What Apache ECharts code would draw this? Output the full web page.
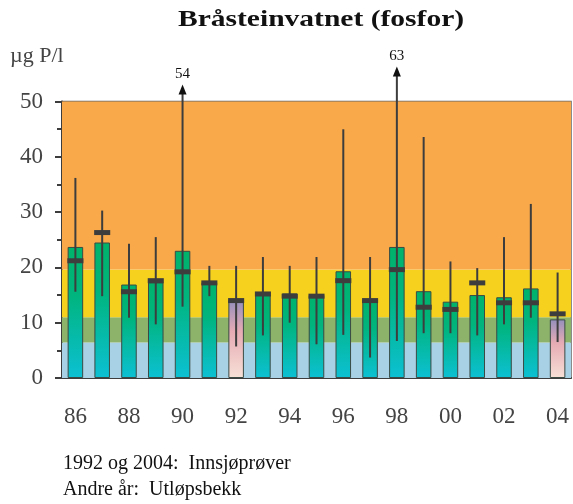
<!DOCTYPE html>
<html>
<head>
<meta charset="utf-8">
<style>
  html, body { margin: 0; padding: 0; background: #fff; }
  #chart { width: 573px; height: 504px; }
</style>
<script src="https://cdn.jsdelivr.net/npm/echarts@6/dist/echarts.min.js"></script>
</head>
<body>
<div id="chart"></div>
<script>
var years = ['1986', '1987', '1988', '1989', '1990', '1991', '1992', '1993', '1994', '1995',
             '1996', '1997', '1998', '1999', '2000', '2001', '2002', '2003', '2004'];
// bar height, mean marker, min and max of the range line (µg P/l)
var barValues = [23.7, 24.5, 16.9, 17.3, 23.0, 17.3, 14.1, 15.0, 15.3, 15.0, 19.3, 14.2, 23.7, 15.7, 13.8, 15.0, 14.6, 16.2, 10.6];
var meanValues = [21.2, 26.3, 15.6, 17.6, 19.2, 17.2, 14.0, 15.2, 14.8, 14.8, 17.6, 14.0, 19.6, 12.8, 12.4, 17.2, 13.6, 13.6, 11.6];
var lowValues = [15.6, 14.8, 10.9, 9.7, 12.9, 14.8, 5.7, 7.7, 10.0, 6.1, 7.8, 3.7, 6.7, 8.1, 8.1, 7.7, 9.7, 10.9, 6.5];
var highValues = [36.9, 31.0, 25.0, 26.2, 54, 21.0, 21.0, 22.6, 21.0, 22.6, 45.7, 22.6, 63, 44.3, 21.8, 20.6, 26.2, 32.2, 19.8];
// years sampled in the lake instead of the outlet stream
var lakeYears = ['1992', '2004'];
// condition class bands
var bandLimits = [0, 6.4, 11, 19.6, 50];
var bandColors = ['#a9d1e5', '#8db36b', '#f6d21f', '#f9a94a'];
var notes = ['1992 og 2004:  Innsjøprøver', 'Andre år:  Utløpsbekk'];

var serif = '"Liberation Serif", "DejaVu Serif", serif';
var ink = '#3d3d3d';
var yMax = 50;

var greenFill = new echarts.graphic.LinearGradient(0, 0, 0, 1, [
  { offset: 0, color: '#00b36b' },
  { offset: 0.35, color: '#00b47c' },
  { offset: 1, color: '#0cc0d4' }
]);
var pinkFill = new echarts.graphic.LinearGradient(0, 0, 0, 1, [
  { offset: 0, color: '#948fbd' },
  { offset: 0.4, color: '#e6abb4' },
  { offset: 1, color: '#f7e0d6' }
]);

var bands = [];
for (var b = 0; b < bandColors.length; b++) {
  bands.push([
    { yAxis: bandLimits[b], itemStyle: { color: bandColors[b], opacity: 1 } },
    { yAxis: bandLimits[b + 1] }
  ]);
}

var rangeData = years.map(function (y, i) {
  return [i, lowValues[i], highValues[i], meanValues[i]];
});

function renderRange(params, api) {
  var i = api.value(0);
  var low = api.value(1);
  var high = api.value(2);
  var mean = api.value(3);
  var w = api.size([1, 0])[0] * 0.6;
  var pLow = api.coord([i, low]);
  var pTop = api.coord([i, Math.min(high, yMax)]);
  var pMean = api.coord([i, mean]);
  var children = [];
  var topY = pTop[1];
  if (high > yMax) {
    // values above the axis get an arrow and their number
    topY = pTop[1] - (8 + (high - yMax) * 2);
    children.push({
      type: 'polygon',
      shape: { points: [[pTop[0] - 4, topY + 9], [pTop[0] + 4, topY + 9], [pTop[0], topY - 1]] },
      style: { fill: '#111' }
    });
    children.push({
      type: 'text',
      x: pTop[0], y: topY - 4,
      style: { text: String(high), fill: '#111', font: '15px ' + serif, align: 'center', verticalAlign: 'bottom' }
    });
  }
  children.unshift({
    type: 'line',
    shape: { x1: pLow[0], y1: pLow[1], x2: pTop[0], y2: topY + 4 },
    style: { stroke: ink, lineWidth: 2 }
  });
  children.push({
    type: 'rect',
    shape: { x: pMean[0] - w / 2, y: pMean[1] - 2.5, width: w, height: 5 },
    style: { fill: ink }
  });
  return { type: 'group', children: children };
}

var chart = echarts.init(document.getElementById('chart'), null, { renderer: 'canvas' });

chart.setOption({
  animation: false,
  backgroundColor: '#fff',
  grid: { left: 62, right: 2, top: 101.5, bottom: 126, show: true, borderColor: '#666', borderWidth: 1.5, backgroundColor: 'transparent' },
  xAxis: [
    {
      type: 'category',
      data: years,
      axisLine: { lineStyle: { color: ink, width: 2 } },
      axisTick: { interval: 0, length: 3, lineStyle: { color: ink, width: 2 } },
      axisLabel: {
        interval: 1,
        margin: 27,
        fontFamily: serif,
        fontSize: 23,
        color: '#444',
        formatter: function (v) { return v.slice(2); }
      }
    },
    {
      type: 'category',
      data: years,
      position: 'bottom',
      axisLine: { show: false },
      axisTick: { interval: 1, length: 7, lineStyle: { color: ink, width: 2 } },
      axisLabel: { show: false }
    }
  ],
  yAxis: {
    type: 'value',
    min: 0,
    max: yMax,
    interval: 10,
    axisLine: { show: true, lineStyle: { color: ink, width: 2 } },
    axisTick: { show: true, length: 7, lineStyle: { color: ink, width: 2 } },
    minorTick: { show: true, splitNumber: 2, length: 5, lineStyle: { color: ink, width: 2 } },
    splitLine: { show: false },
    axisLabel: { fontFamily: serif, fontSize: 23, color: '#444', margin: 19 }
  },
  graphic: [
    {
      type: 'text', left: 178, top: 8, scaleX: 1.23,
      style: { text: 'Bråsteinvatnet (fosfor)', font: 'bold 24px ' + serif, fill: '#111' }
    },
    { type: 'text', left: 10, top: 45, style: { text: 'µg P/l', font: '22px ' + serif, fill: '#444' } },
    { type: 'text', left: 63, top: 454, style: { text: notes[0], font: '20px ' + serif, fill: '#111' } },
    { type: 'text', left: 63, top: 480, style: { text: notes[1], font: '20px ' + serif, fill: '#111' } }
  ],
  series: [
    {
      name: 'bands',
      type: 'line',
      data: [],
      z: 1,
      silent: true,
      markArea: { silent: true, data: bands }
    },
    {
      name: 'fosfor',
      type: 'bar',
      barWidth: '58%',
      z: 2,
      data: barValues.map(function (v, i) {
        var lake = lakeYears.indexOf(years[i]) >= 0;
        return {
          value: v,
          itemStyle: { color: lake ? pinkFill : greenFill, borderColor: '#3a4a44', borderWidth: 1 }
        };
      })
    },
    {
      name: 'range',
      type: 'custom',
      z: 3,
      clip: false,
      renderItem: renderRange,
      data: rangeData
    }
  ]
});
</script>
</body>
</html>
